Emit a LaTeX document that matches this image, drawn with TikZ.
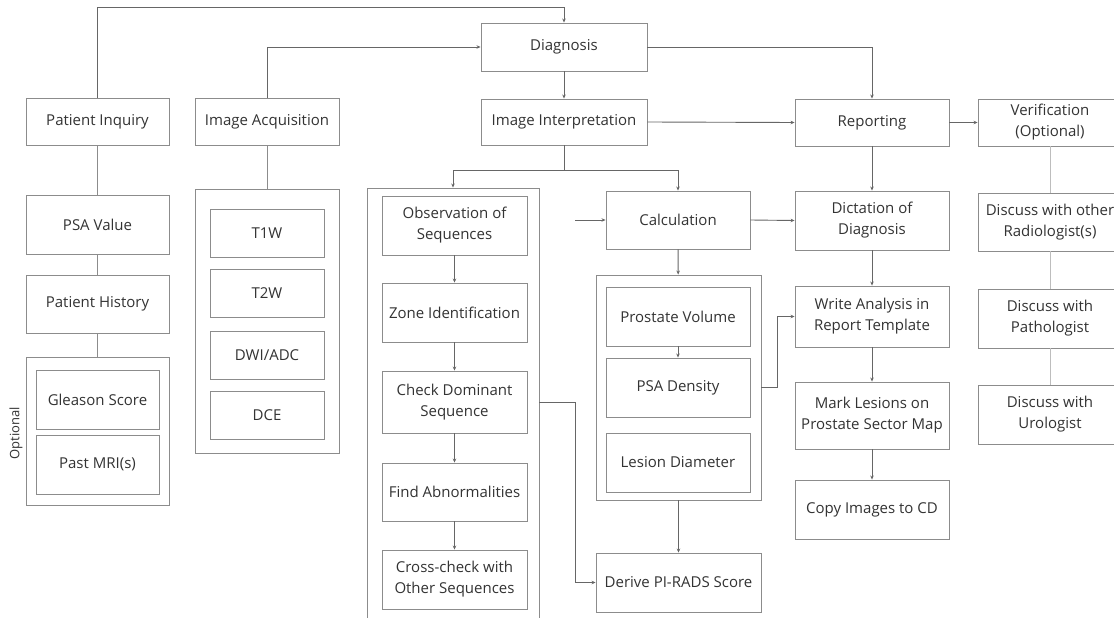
\documentclass[tikz,border=0pt]{standalone}
\usepackage{fontspec}
\setmainfont{Open Sans}
\usetikzlibrary{arrows.meta}
\definecolor{boxgray}{HTML}{8C8C8C}
\definecolor{linegray}{HTML}{666666}
\definecolor{lightgray}{HTML}{BDBDBD}
\definecolor{textgray}{HTML}{333333}
\begin{document}
\begin{tikzpicture}[x=1pt,y=-1pt,
    box/.style={draw=boxgray,line width=0.9pt,align=center,text=textgray,inner sep=0pt,
        font=\fontsize{15}{21}\selectfont},
    arr/.style={draw=linegray,line width=0.9pt,-{Stealth[length=4pt,width=3.5pt]}},
    link/.style={draw=boxgray,line width=0.9pt},
    soft/.style={draw=lightgray,line width=0.9pt}]

    % Define page
    \path[use as bounding box] (0,0) rectangle (1114,618);
    \clip (0,0) rectangle (1114,618);
    \fill[white] (0,0) rectangle (1114,618);

    % Patient inquiry column
    \node[box,minimum width=143,minimum height=47] (inquiry) at (97.5,121.5) {Patient Inquiry};
    \node[box,minimum width=143,minimum height=59] (psa) at (97.5,224.5) {PSA Value};
    \node[box,minimum width=143,minimum height=58] (history) at (97.5,304) {Patient History};
    \node[box,minimum width=143,minimum height=148] (optgroup) at (97.5,431) {};
    \node[box,minimum width=123,minimum height=59] (gleason) at (97.5,399.5) {Gleason Score};
    \node[box,minimum width=123,minimum height=59] (pastmri) at (97.5,464.5) {Past MRI(s)};
    \node[text=textgray,rotate=90,font=\fontsize{13}{15}\selectfont] (optional) at (16,433) {Optional};

    % Image acquisition column
    \node[box,minimum width=144,minimum height=47] (acquisition) at (267,121.5) {Image Acquisition};
    \node[box,minimum width=144,minimum height=264] (acqgroup) at (267,321) {};
    \node[box,minimum width=114,minimum height=48] (t1w) at (267,233) {T1W};
    \node[box,minimum width=114,minimum height=48] (t2w) at (267,293.5) {T2W};
    \node[box,minimum width=114,minimum height=48] (dwi) at (267,355) {DWI/ADC};
    \node[box,minimum width=114,minimum height=48] (dce) at (267,415.5) {DCE};

    % Diagnosis and interpretation
    \node[box,minimum width=166,minimum height=48] (diagnosis) at (564,47) {Diagnosis};
    \node[box,minimum width=166,minimum height=46] (interpretation) at (564,122) {Image Interpretation};

    % Sequence column
    \node[box,minimum width=172,minimum height=452] (interpgroup) at (453,414) {};
    \node[box,minimum width=145,minimum height=59] (observation) at (454.5,225.5) {Observation of\\Sequences};
    \node[box,minimum width=145,minimum height=59] (zone) at (454.5,312.5) {Zone Identification};
    \node[box,minimum width=145,minimum height=62] (dominant) at (454.5,402) {Check Dominant\\Sequence};
    \node[box,minimum width=145,minimum height=58] (abnormal) at (454.5,492) {Find Abnormalities};
    \node[box,minimum width=145,minimum height=59] (crosscheck) at (454.5,579.5) {Cross-check with\\Other Sequences};

    % Calculation column
    \node[box,minimum width=144,minimum height=58] (calculation) at (678,220) {Calculation};
    \node[box,minimum width=165,minimum height=225] (calcgroup) at (678.5,387.5) {};
    \node[box,minimum width=144,minimum height=59] (volume) at (678,316.5) {Prostate Volume};
    \node[box,minimum width=144,minimum height=59] (density) at (678,387.5) {PSA Density};
    \node[box,minimum width=144,minimum height=59] (diameter) at (678,462.5) {Lesion Diameter};
    \node[box,minimum width=165,minimum height=59] (pirads) at (678.5,582.5) {Derive PI-RADS Score};
    \coordinate (calcin) at (575,220);

    % Reporting column
    \node[box,minimum width=154,minimum height=47] (reporting) at (872,122.5) {Reporting};
    \node[box,minimum width=154,minimum height=59] (dictation) at (872,220.5) {Dictation of\\Diagnosis};
    \node[box,minimum width=154,minimum height=61] (write) at (872,316.5) {Write Analysis in\\Report Template};
    \node[box,minimum width=154,minimum height=67] (mark) at (872,415.5) {Mark Lesions on\\Prostate Sector Map};
    \node[box,minimum width=154,minimum height=59] (copy) at (872,509.5) {Copy Images to CD};

    % Verification column
    \node[box,minimum width=144,minimum height=47] (verification) at (1050,122.5) {Verification\\(Optional)};
    \node[box,minimum width=144,minimum height=58] (radiologist) at (1050,222) {Discuss with other\\Radiologist(s)};
    \node[box,minimum width=144,minimum height=59] (pathologist) at (1050,318.5) {Discuss with\\Pathologist};
    \node[box,minimum width=144,minimum height=59] (urologist) at (1050,414.5) {Discuss with\\Urologist};

    % Draw connectors
    \draw[arr] (inquiry.north) -- (inquiry.north |- 0,7.5) -| (diagnosis.north);
    \draw[arr] (acquisition.north) |- (diagnosis.west);
    \draw[arr] (diagnosis.east) -| (reporting.north);
    \draw[arr] (diagnosis) -- (interpretation);
    \draw[arr] (interpretation.east) -- (reporting.west);
    \draw[arr] (interpretation.south) -- ++(0,25) -| (interpgroup.north);
    \draw[arr] (interpretation.south) -- ++(0,25) -| (calculation.north);
    \draw[link] (inquiry) -- (psa);
    \draw[link] (psa) -- (history);
    \draw[link] (history) -- (optgroup);
    \draw[link] (acquisition) -- (acqgroup);
    \draw[arr] (observation) -- (zone);
    \draw[arr] (zone) -- (dominant);
    \draw[arr] (dominant) -- (abnormal);
    \draw[arr] (abnormal) -- (crosscheck);
    \draw[arr] (interpgroup.east |- dominant.east) -- ++(36,0) |- (pirads.west);
    \draw[arr] (calcin) -- (calculation.west);
    \draw[arr] (calculation.east) -- (dictation.west);
    \draw[arr] (calculation) -- (calcgroup);
    \draw[arr] (volume) -- (density);
    \draw[arr] (calcgroup) -- (pirads);
    \draw[arr] (calcgroup.east) -- ++(16,0) |- (write.west);
    \draw[arr] (reporting) -- (verification);
    \draw[arr] (reporting) -- (dictation);
    \draw[arr] (dictation) -- (write);
    \draw[arr] (write) -- (mark);
    \draw[arr] (mark) -- (copy);
    \draw[soft] (verification) -- (radiologist);
    \draw[soft] (radiologist) -- (pathologist);
    \draw[soft] (pathologist) -- (urologist);

\end{tikzpicture}
\end{document}
